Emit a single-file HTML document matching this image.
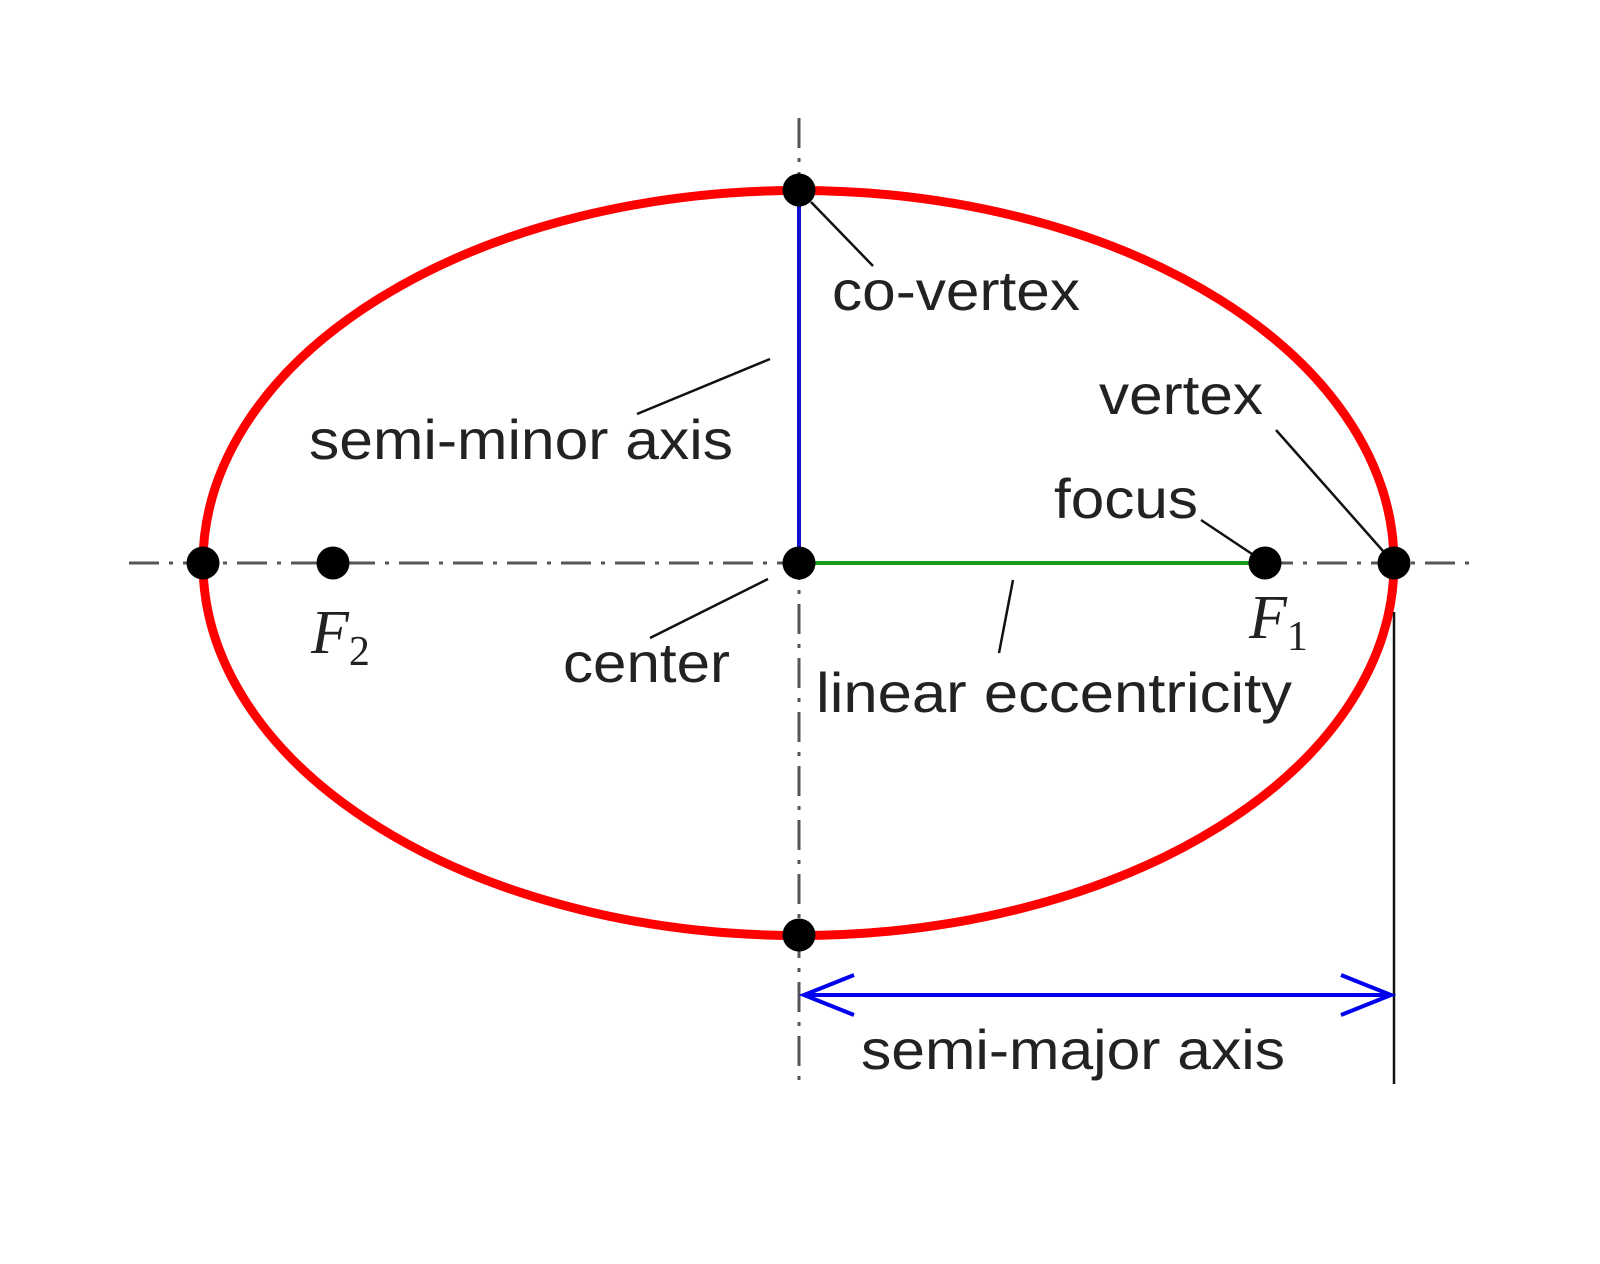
<!DOCTYPE html>
<html><head><meta charset="utf-8"><style>html,body{margin:0;padding:0;background:#fff}svg{display:block}</style></head>
<body>
<svg width="1600" height="1264" viewBox="0 0 1600 1264" xmlns="http://www.w3.org/2000/svg">
<g transform="translate(-4,-3)">
<g stroke="#555" stroke-width="3" stroke-dasharray="30,10,4,10" fill="none">
<line x1="133" y1="566" x2="1474" y2="566"/>
<line x1="803" y1="121" x2="803" y2="1085"/>
</g>
<line x1="803" y1="193" x2="803" y2="566" stroke="#1010d0" stroke-width="4"/>
<line x1="803" y1="566" x2="1269" y2="566" stroke="#1a9a1a" stroke-width="4"/>
<ellipse cx="802.5" cy="566" rx="595.5" ry="372.5" fill="none" stroke="#ff0000" stroke-width="9"/>
<line x1="1398" y1="615" x2="1398" y2="1087" stroke="#111" stroke-width="2.5"/>
<g stroke="#0000ee" stroke-width="4" fill="none">
<line x1="808" y1="998" x2="1395" y2="998"/>
<polyline points="858,978 808,998 858,1018"/>
<polyline points="1345,978 1395,998 1345,1018"/>
</g>
<g stroke="#111" stroke-width="2.5">
<line x1="815" y1="205" x2="877" y2="269"/>
<line x1="1280" y1="433" x2="1387" y2="554"/>
<line x1="641" y1="417" x2="774" y2="362"/>
<line x1="1205" y1="523" x2="1256" y2="557"/>
<line x1="654" y1="641" x2="772" y2="582"/>
<line x1="1017" y1="583" x2="1003" y2="656"/>
</g>
<g fill="#000">
<circle cx="207" cy="566" r="16.5"/>
<circle cx="337" cy="566" r="16.5"/>
<circle cx="803" cy="566" r="16.5"/>
<circle cx="1269" cy="566" r="16.5"/>
<circle cx="1398" cy="566" r="16.5"/>
<circle cx="803" cy="193" r="16.5"/>
<circle cx="803" cy="938" r="16.5"/>
</g>
<g font-family="Liberation Sans, sans-serif" font-size="56" fill="#222">
<text x="836" y="313" textLength="248" lengthAdjust="spacingAndGlyphs">co-vertex</text>
<text x="1103" y="417" textLength="164" lengthAdjust="spacingAndGlyphs">vertex</text>
<text x="313" y="462" textLength="424" lengthAdjust="spacingAndGlyphs">semi-minor axis</text>
<text x="1058" y="521" textLength="144" lengthAdjust="spacingAndGlyphs">focus</text>
<text x="567" y="685" textLength="167" lengthAdjust="spacingAndGlyphs">center</text>
<text x="820" y="715" textLength="476" lengthAdjust="spacingAndGlyphs">linear eccentricity</text>
<text x="865" y="1072" textLength="424" lengthAdjust="spacingAndGlyphs">semi-major axis</text>
</g>
<g font-family="Liberation Serif, serif" fill="#222">
<text x="315" y="656" font-size="62" font-style="italic">F<tspan font-size="42" font-style="normal" dy="12">2</tspan></text>
<text x="1253" y="641" font-size="62" font-style="italic">F<tspan font-size="42" font-style="normal" dy="12">1</tspan></text>
</g>
</g>
</svg>
</body></html>
